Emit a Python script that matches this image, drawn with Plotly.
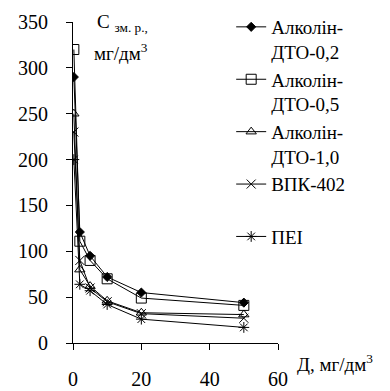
import plotly.graph_objects as go

x_dose = [0.25, 2, 5, 10, 20, 50]
names = ["Алколін-<br>ДТО-0,2", "Алколін-<br>ДТО-0,5", "Алколін-<br>ДТО-1,0", "ВПК-402<br> ", "ПЕІ"]
dto02 = [290, 121, 95, 72, 55, 44]
dto05 = [320, 111, 90, 70, 49, 41]
dto10 = [250, 80, 62, 46, 33, 31]
vpk402 = [230, 90, 60, 45, 32, 27]
pei = [200, 64, 57, 42, 26, 17]
series = [dto02, dto05, dto10, vpk402, pei]
symbols = ["diamond", "square-open", "triangle-up-open", "x-thin-open", "asterisk-open"]
sizes = [7, 10, 9, 9, 9]

fig = go.Figure()
for nm, ys, sym, sz in zip(names, series, symbols, sizes):
    fig.add_trace(go.Scatter(
        x=x_dose, y=ys, name=nm, mode="lines+markers",
        line=dict(color="black", width=1),
        marker=dict(symbol=sym, size=sz, color="black", line=dict(color="black", width=1)),
    ))

font_family = "serif"
fig.update_layout(
    width=382, height=383,
    margin=dict(l=65, r=0, t=0, b=48),
    paper_bgcolor="white", plot_bgcolor="white",
    font=dict(family=font_family, size=20, color="black"),
    showlegend=True,
    legend=dict(x=0.499, y=1.0, xanchor="left", yanchor="top",
                font=dict(size=19, family=font_family), valign="top",
                bgcolor="rgba(0,0,0,0)", tracegroupgap=0, maxheight=380),
    xaxis=dict(domain=[0, 0.6467], range=[0, 60], tickvals=[0, 20, 40, 60], showgrid=False,
               zeroline=False, showline=True, linecolor="black", linewidth=1, ticks="outside",
               ticklen=6, tickcolor="black", ticklabelstandoff=12, automargin=False),
    yaxis=dict(domain=[0, 0.9582], range=[0, 350], tickvals=[0, 50, 100, 150, 200, 250, 300, 350],
               showgrid=False, zeroline=False, showline=True, linecolor="black", linewidth=1,
               ticks="outside", ticklen=6, tickcolor="black", ticklabelstandoff=14,
               automargin=False),
    annotations=[
        dict(xref="paper", yref="paper", x=0.07, y=0.955, xanchor="left", yanchor="middle",
             text="С <sub>зм. р.,</sub>", showarrow=False, font=dict(size=19)),
        dict(xref="paper", yref="paper", x=0.06, y=0.87, xanchor="left", yanchor="middle",
             text="мг/дм<sup>3</sup>", showarrow=False, font=dict(size=19)),
        dict(xref="paper", yref="paper", x=0.70, y=-0.06, xanchor="left", yanchor="middle",
             text="Д, мг/дм<sup>3</sup>", showarrow=False, font=dict(size=19)),
    ],
)

fig.write_html("out.html")
